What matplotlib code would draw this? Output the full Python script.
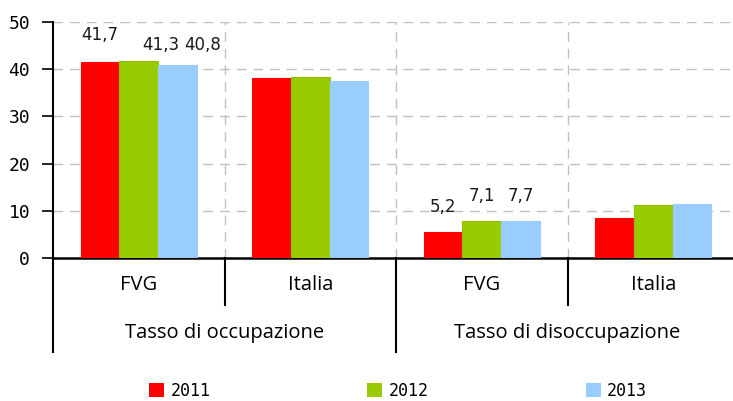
import numpy as np
import matplotlib
matplotlib.use('Agg')
import matplotlib.pyplot as plt
from matplotlib.patches import Patch

# data
groups = ['Tasso di occupazione', 'Tasso di disoccupazione']
areas = ['FVG', 'Italia', 'FVG', 'Italia']
years = ['2011', '2012', '2013']
v2011 = [41.5, 38.1, 5.5, 8.5]
v2012 = [41.7, 38.3, 7.8, 11.2]
v2013 = [40.9, 37.5, 7.8, 11.4]
# value labels shown only on the FVG bars
labels_occ = ['41,7', '41,3', '40,8']
labels_dis = ['5,2', '7,1', '7,7']

colors = ['#ff0000', '#99cc00', '#99ccff']
series = [v2011, v2012, v2013]

fig = plt.figure(figsize=(7.33, 4.01), dpi=100)
ax = fig.add_axes([53/733, 143/401, 680/733, 236/401])

x = np.arange(len(areas)) + 0.5
w = 0.225
for i, (vals, c) in enumerate(zip(series, colors)):
    ec = '#8fbf00' if i == 1 else c
    ax.bar(x + (i - 1) * w, vals, w, color=c, edgecolor=ec, linewidth=0.8,
           zorder=3, label=years[i])

# value labels (offsets in pixels, as placed in the original)
occ_off = [(0, 27), (22, 16), (25, 20)]
for i, (lab, (dx, dy)) in enumerate(zip(labels_occ, occ_off)):
    ax.annotate(lab, (x[0] + (i - 1) * w, series[i][0]), xytext=(dx, dy),
                textcoords='offset pixels', ha='center', va='center',
                fontsize=12, color='#1a1a1a')
for i, lab in enumerate(labels_dis):
    ax.annotate(lab, (x[2] + (i - 1) * w, series[i][2]), xytext=(0, 25),
                textcoords='offset pixels', ha='center', va='center',
                fontsize=12, color='#1a1a1a')

ax.set_xlim(0, 680/171.5)
ax.set_ylim(0, 50)
ax.set_yticks(range(0, 51, 10))
ax.tick_params(axis='y', length=8, width=1.2, pad=8.5, direction='out',
               labelsize=13)
for t in ax.get_yticklabels():
    t.set_family('DejaVu Sans Mono')
ax.set_xticks([])

ax.grid(axis='y', color='#c0c0c0', linestyle=(0, (7, 5)), linewidth=1, zorder=0)
for xv in [1, 2, 3]:
    ax.axvline(xv, color='#c0c0c0', linestyle=(0, (7, 5)), linewidth=1, zorder=0)

for s in ['top', 'right']:
    ax.spines[s].set_visible(False)
ax.spines['left'].set_linewidth(1.5)
ax.spines['bottom'].set_linewidth(1.8)

# category axis separators below the plot
trans = ax.get_xaxis_transform()
for xv, y0 in [(0, -0.398), (1, -0.199), (2, -0.398), (3, -0.199)]:
    ax.plot([xv, xv], [0, y0], transform=trans, color='black', lw=1.5,
            clip_on=False)
for xi, a in zip(x, areas):
    ax.text(xi, -0.114, a, transform=trans, ha='center', va='center',
            fontsize=14.5, family='Open Sans')
for xi, g in zip([1, 3], groups):
    ax.text(xi, -0.318, g, transform=trans, ha='center', va='center',
            fontsize=14.5, family='Open Sans')

handles = [Patch(facecolor=c, edgecolor='none') for c in colors]
fig.legend(handles, years, loc='center', bbox_to_anchor=(398/733, 1 - 391/401),
           ncol=3, frameon=False, prop={'family': 'DejaVu Sans Mono', 'size': 12},
           handlelength=0.9, handleheight=0.9, handletextpad=0.4,
           columnspacing=9.4)

fig.savefig('out.png', dpi=100)
